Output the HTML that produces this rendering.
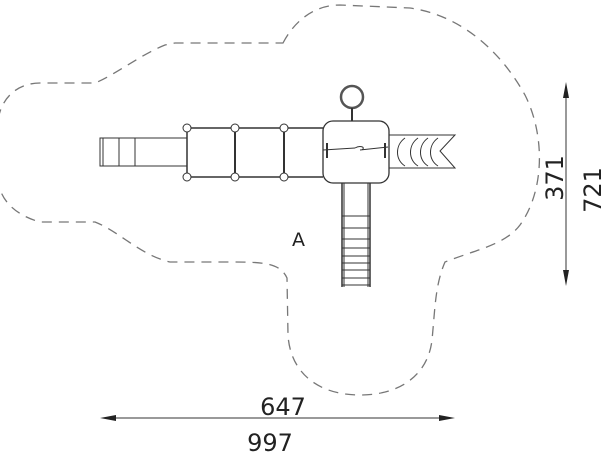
<!DOCTYPE html><html><head><style>body{margin:0;background:#fff}svg{display:block}text{font-family:"DejaVu Sans","Liberation Sans",sans-serif;fill:#222}</style></head><body>
<svg width="603" height="453" viewBox="0 0 603 453">
<path d="M283,43 C295,20 315,5 340,5 L410,8 C460,15 500,50 525,95 C545,135 545,190 520,225 C505,245 475,250 445,262 C435,285 435,310 432,340 C428,375 400,395 360,395 C315,395 290,370 288,335 L287,278 C280,262 260,262 230,262 L170,262 C140,255 120,232 95,222 L40,222 C15,215 0,200 -2,180 L-2,120 C2,95 20,83 40,83 L95,83 C115,75 140,55 165,45 L175,43 Z" fill="none" stroke="#777" stroke-width="1.3" stroke-dasharray="10,7"/>
<g stroke="#333" fill="none" stroke-width="1">
<rect x="100" y="138" width="87" height="28"/>
<line x1="103" y1="138" x2="103" y2="166"/><line x1="119" y1="138" x2="119" y2="166"/><line x1="135" y1="138" x2="135" y2="166"/>
<line x1="187" y1="128" x2="323" y2="128" stroke-width="1.5"/><line x1="187" y1="177" x2="323" y2="177" stroke-width="1.5"/>
<line x1="187" y1="128" x2="187" y2="177" stroke-width="1.5"/><line x1="235" y1="128" x2="235" y2="177" stroke-width="2"/><line x1="284" y1="128" x2="284" y2="177" stroke-width="2"/>
<rect x="323" y="121" width="66" height="62" rx="10" stroke-width="1.3"/>
<path d="M323,150 L355,148 M360,150 L388,147 M355,148 C360,145 366,147 362,150"/>
<line x1="327" y1="143" x2="327" y2="158" stroke-width="2"/><line x1="385" y1="143" x2="385" y2="158" stroke-width="2"/>
<circle cx="352" cy="97" r="11" stroke-width="2.5" stroke="#555"/>
<line x1="352" y1="108" x2="352" y2="121" stroke-width="2"/>
<path d="M389,135 L455,135 L440,151 L455,168 L389,168"/>
<path d="M405,138 C395,145 395,160 405,166 M418,138 C408,145 408,160 418,166 M428,138 C418,145 418,160 428,166 M438,138 C428,145 428,160 438,166"/>
<line x1="342" y1="183" x2="342" y2="287" stroke-width="1.5"/><line x1="370" y1="183" x2="370" y2="287" stroke-width="1.5"/>
<line x1="344" y1="183" x2="344" y2="287"/><line x1="368" y1="183" x2="368" y2="287"/>
<path d="M342,216H370M342,228H370M342,239H370M342,248H370M342,256H370M342,263H370M342,270H370M342,278H370M342,285H370"/>
</g>
<g fill="#fff" stroke="#333"><circle cx="187" cy="128" r="4"/><circle cx="235" cy="128" r="4"/><circle cx="284" cy="128" r="4"/><circle cx="187" cy="177" r="4"/><circle cx="235" cy="177" r="4"/><circle cx="284" cy="177" r="4"/></g>
<text x="292" y="246" font-size="19">A</text>
<line x1="104" y1="418" x2="451" y2="418" stroke="#333"/>
<path d="M100,418 L116,415 L116,421Z M455,418 L439,415 L439,421Z" fill="#222"/>
<text x="283" y="415" font-size="24" text-anchor="middle">647</text>
<text x="270" y="451" font-size="24" text-anchor="middle">997</text>
<line x1="566" y1="86" x2="566" y2="282" stroke="#333"/>
<path d="M566,82 L563,98 L569,98Z M566,286 L563,270 L569,270Z" fill="#222"/>
<text transform="translate(563,178) rotate(-90)" font-size="24" text-anchor="middle">371</text>
<text transform="translate(601,190) rotate(-90)" font-size="24" text-anchor="middle">721</text>
</svg></body></html>
